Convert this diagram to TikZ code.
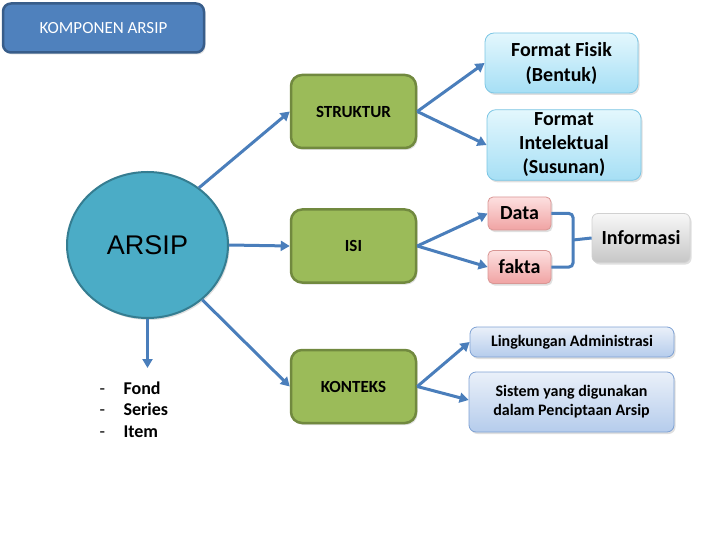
\documentclass[tikz,border=0pt]{standalone}
\usepackage{fontspec}
\setmainfont{Carlito}
\newfontfamily\arialf{Liberation Sans}
\usetikzlibrary{arrows.meta,shadows,shapes.geometric}
\definecolor{kblue}{HTML}{4F81BD}
\definecolor{kbluedk}{HTML}{385D8A}
\definecolor{kgreen}{HTML}{9BBB59}
\definecolor{kgreendk}{HTML}{71893F}
\definecolor{karrow}{HTML}{4A7EBB}
\definecolor{kcirc}{HTML}{4BACC6}
\definecolor{kcircdk}{HTML}{357D91}
\definecolor{cytop}{HTML}{E3F7FD}
\definecolor{cybot}{HTML}{A6DFF5}
\definecolor{cyline}{HTML}{7CC6E4}
\definecolor{pktop}{HTML}{FDE0E0}
\definecolor{pkbot}{HTML}{F0A3A3}
\definecolor{pkline}{HTML}{D99694}
\definecolor{lbtop}{HTML}{EAF0F9}
\definecolor{lbbot}{HTML}{B5CCEC}
\definecolor{lbline}{HTML}{7FA2D4}
\tikzset{
  sh/.style={drop shadow={opacity=0.25,shadow xshift=1.5pt,shadow yshift=-2pt}},
  greenbox/.style={draw=kgreendk,line width=2.5pt,fill=kgreen,rounded corners=11pt,minimum width=125pt,minimum height=73pt,font=\fontsize{17}{20}\selectfont\bfseries,sh},
  cyanbox/.style={draw=cyline,line width=0.8pt,top color=cytop,bottom color=cybot,rounded corners=9pt,align=center,sh},
  pinkbox/.style={draw=pkline,line width=0.8pt,top color=pktop,bottom color=pkbot,rounded corners=5pt,minimum width=63pt,minimum height=33pt,font=\fontsize{20}{24}\selectfont\bfseries,sh},
  graybox/.style={draw=black!18,line width=0.8pt,top color=black!3,bottom color=black!22,rounded corners=6pt,minimum width=98pt,minimum height=49pt,font=\fontsize{20}{24}\selectfont\bfseries,sh},
  lbox/.style={draw=lbline,line width=0.8pt,top color=lbtop,bottom color=lbbot,rounded corners=7pt,align=center,sh},
  arr/.style={draw=karrow,line width=3pt,-{Triangle[length=9pt,width=10pt]}},
  con/.style={draw=karrow,line width=3pt,rounded corners=4pt},
}
\begin{document}
\begin{tikzpicture}[x=1pt,y=-1pt]
\useasboundingbox (0,0) rectangle (720,540);
% title
\node[draw=kbluedk,line width=2.5pt,fill=kblue,rounded corners=8pt,minimum width=201pt,minimum height=49pt,text=white,font=\fontsize{17}{20}\selectfont,sh] (title) at (103.5,28) {KOMPONEN ARSIP};
% circle
\node[ellipse,draw=kcircdk,line width=2pt,fill=kcirc,minimum width=161pt,minimum height=146pt,font=\arialf\fontsize{27}{30}\selectfont,sh] (arsip) at (147.5,245) {ARSIP};
% green
\node[greenbox] (struktur) at (353.5,111.5) {STRUKTUR};
\node[greenbox] (isi) at (353.5,246) {ISI};
\node[greenbox] (konteks) at (353.5,386.5) {KONTEKS};
% right boxes
\node[cyanbox,minimum width=153pt,minimum height=60pt,font=\fontsize{20}{25}\selectfont\bfseries] (fisik) at (561.5,63) {Format Fisik\\(Bentuk)};
\node[cyanbox,minimum width=154pt,minimum height=70pt,font=\fontsize{20}{24}\selectfont\bfseries] (intel) at (564,145) {Format\\Intelektual\\(Susunan)};
\node[pinkbox] (data) at (519.5,213.5) {Data};
\node[pinkbox] (fakta) at (519.5,267) {fakta};
\node[graybox] (info) at (641,238) {Informasi};
\node[lbox,minimum width=204pt,minimum height=30pt,font=\fontsize{16}{19}\selectfont\bfseries] (lingk) at (572,342) {Lingkungan Administrasi};
\node[lbox,minimum width=205pt,minimum height=60pt,font=\fontsize{16}{19}\selectfont\bfseries] (sistem) at (571.5,402) {Sistem yang digunakan\\dalam Penciptaan Arsip};
% list
\coordinate (lst) at (147.5,368);
\node[anchor=west,font=\fontsize{18}{21.5}\selectfont\bfseries,align=left] (list) at (96,409.5) {\makebox[24pt][l]{\mdseries -}Fond\\\makebox[24pt][l]{\mdseries -}Series\\\makebox[24pt][l]{\mdseries -}Item};
% arrows
\draw[arr] (arsip.48) -- (struktur.west);
\draw[arr] (arsip.east) -- (isi.west);
\draw[arr] (arsip.-45) -- (konteks.west);
\draw[arr] (arsip.south) -- (lst);
\draw[arr] (struktur.east) -- (fisik.west);
\draw[arr] (struktur.east) -- (intel.west);
\draw[arr] (isi.east) -- (data.west);
\draw[arr] (isi.east) -- (fakta.west);
\draw[arr] (konteks.east) -- (lingk.west);
\draw[arr] (konteks.east) -- ([yshift=2pt]sistem.west);
% bracket
\coordinate (bm) at (573,240);
\draw[con] (data.east) -| (bm) |- (fakta.east);
\draw[con] (bm) -- (info.west);
\end{tikzpicture}
\end{document}
